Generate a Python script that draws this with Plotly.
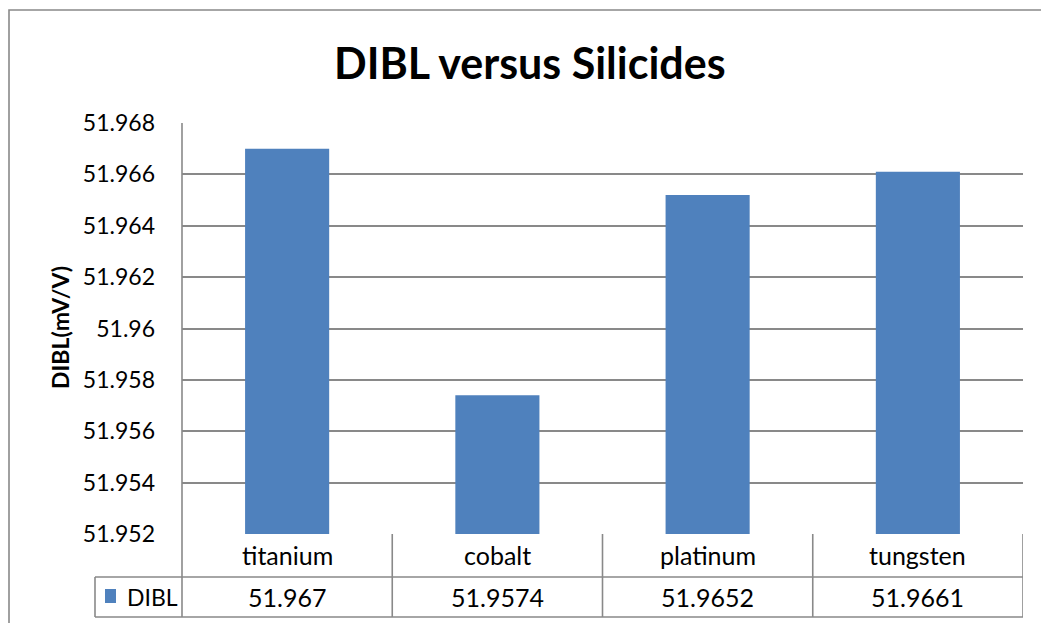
import plotly.graph_objects as go

# Data
categories = ["titanium", "cobalt", "platinum", "tungsten"]
dibl_values = [51.967, 51.9574, 51.9652, 51.9661]
series_name = "DIBL"
tick_values = [51.952, 51.954, 51.956, 51.958, 51.96, 51.962, 51.964, 51.966, 51.968]
tick_labels = ["51.952", "51.954", "51.956", "51.958", "51.96", "51.962", "51.964", "51.966", "51.968"]

W_PX, H_PX = 1041, 623
L, R, T, B = 182, 1023, 123, 534
PW, PH = R - L, B - T

def px(x):
    return (x - L) / PW

def py(y):
    return (B - y) / PH

FONT = "Lato"
BAR = "#4F81BD"
LINE = "#898989"

fig = go.Figure(go.Bar(
    x=categories, y=dibl_values, name=series_name,
    marker=dict(color=BAR, line=dict(width=0)), width=0.4,
))

shapes = []
def seg(x0, y0, x1, y1, xref="paper"):
    shapes.append(dict(type="line", xref=xref, yref="paper", x0=x0, y0=y0, x1=x1, y1=y1,
                       line=dict(color=LINE, width=1.6), layer="above"))

# outer chart border
shapes.append(dict(type="rect", xref="paper", yref="paper",
                   x0=px(9), y0=py(700), x1=px(1060), y1=py(10),
                   line=dict(color=LINE, width=1.6), fillcolor="rgba(0,0,0,0)", layer="below"))

# data table grid
seg(0, py(617), 0, 1)                 # value axis line running through the table
seg(0, py(577), 1, py(577))           # between category and value rows
seg(px(95), py(617), 1, py(617))      # bottom of table
seg(px(95), py(577), px(95), py(617))  # legend cell left edge
seg(px(95), py(577), 0, py(577))
for i in range(len(categories)):
    seg(i + 0.5, py(617), i + 0.5, 0, xref="x")

# legend key in the table
shapes.append(dict(type="rect", xref="paper", yref="paper",
                   x0=px(105), x1=px(116), y0=py(603), y1=py(589),
                   fillcolor=BAR, line=dict(width=0)))

annotations = [
    dict(text="<b>DIBL versus Silicides</b>", xref="paper", yref="paper",
         x=px(530), y=py(63), showarrow=False, font=dict(family=FONT, size=43, color="black"),
         xanchor="center", yanchor="middle"),
    dict(text="<b>DIBL(mV/V)</b>", xref="paper", yref="paper", textangle=-90,
         x=px(60), y=py(328), showarrow=False, font=dict(family=FONT, size=23, color="black"),
         xanchor="center", yanchor="middle"),
    dict(text=series_name, xref="paper", yref="paper", x=px(125), y=py(597),
         showarrow=False, font=dict(family=FONT, size=23, color="black"),
         xanchor="left", yanchor="middle"),
]
for cat, val in zip(categories, dibl_values):
    annotations.append(dict(text=cat, xref="x", yref="paper", x=cat, y=py(555),
                            showarrow=False, font=dict(family=FONT, size=25, color="black"),
                            xanchor="center", yanchor="middle"))
    annotations.append(dict(text=f"{val:g}", xref="x", yref="paper", x=cat, y=py(597),
                            showarrow=False, font=dict(family=FONT, size=25, color="black"),
                            xanchor="center", yanchor="middle"))

fig.update_layout(
    width=W_PX, height=H_PX,
    margin=dict(l=L, r=W_PX - R, t=T, b=H_PX - B),
    paper_bgcolor="white", plot_bgcolor="white",
    showlegend=False,
    shapes=shapes, annotations=annotations,
    xaxis=dict(showticklabels=False, showgrid=False, zeroline=False, showline=False,
               range=[-0.5, 3.5]),
    yaxis=dict(range=[51.952, 51.968], tickvals=tick_values, ticktext=tick_labels,
               showgrid=True, gridcolor=LINE, gridwidth=1.6, zeroline=False,
               showline=False, ticks="", ticklabelstandoff=26,
               tickfont=dict(family=FONT, size=23, color="black")),
    bargap=0.6,
)

fig.write_html("out.html")
